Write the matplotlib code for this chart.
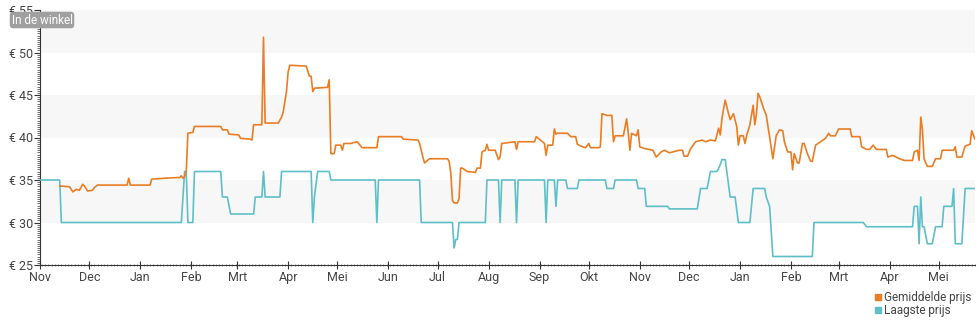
import numpy as np
import pandas as pd
import matplotlib
matplotlib.use('Agg')
import matplotlib.pyplot as plt
import matplotlib.dates as mdates
from matplotlib.lines import Line2D

plt.rcParams['font.family'] = ['Roboto', 'DejaVu Sans']

# startdatum van de grafiek; dagen tellen vanaf hier
start = pd.Timestamp('2022-11-01')
eind_dag = 569

# Gemiddelde prijs (dag, euro)
gem_dag = [12, 18, 20, 22, 24, 26, 27, 29, 32, 33, 35, 53, 54, 55, 67, 68, 75, 85, 86, 87,
           88, 89, 90, 93, 94, 110, 111, 114, 115, 121, 122, 128, 129, 130, 135, 136, 137, 145,
           147, 148, 150, 151, 152, 162, 164, 165, 166, 167, 175, 176, 177, 179, 180, 183, 184,
           185, 189, 193, 196, 205, 206, 220, 221, 230, 231, 233, 234, 237, 248, 249, 250, 251,
           252, 254, 255, 256, 257, 260, 265, 266, 268, 269, 271, 272, 273, 277, 279, 280, 281,
           289, 290, 291, 301, 302, 307, 308, 309, 312, 313, 314, 315, 321, 323, 326, 327, 329,
           332, 334, 335, 340, 341, 342, 345, 348, 349, 350, 355, 357, 358, 359, 360, 363, 364,
           365, 368, 373, 375, 378, 380, 383, 389, 391, 392, 394, 396, 399, 403, 405, 408, 411,
           413, 414, 415, 416, 417, 419, 420, 422, 424, 425, 426, 428, 429, 430, 432, 434, 435,
           436, 437, 438, 440, 442, 443, 444, 446, 448, 450, 452, 453, 455, 457, 458, 459, 461,
           462, 464, 465, 467, 469, 470, 472, 475, 478, 480, 481, 484, 486, 493, 494, 499, 500,
           503, 505, 507, 509, 515, 516, 519, 523, 526, 531, 532, 534, 535, 536, 537, 538, 540,
           543, 545, 548, 549, 556, 557, 558, 561, 563, 566, 567, 569]
gem_prijs = [34.3, 34.2, 33.6, 33.9, 33.8, 34.5, 34.3, 33.7, 33.8, 34.1, 34.4, 34.4, 35.2, 34.4,
             34.4, 35.1, 35.2, 35.3, 35.5, 35.2, 35.4, 36.0, 40.5, 40.6, 41.3, 41.3, 40.9, 40.9,
             40.4, 40.3, 39.9, 39.8, 39.7, 41.5, 41.5, 51.8, 41.7, 41.7, 42.4, 43.0, 45.4, 47.7,
             48.5, 48.4, 47.2, 47.2, 45.4, 45.8, 45.9, 46.8, 38.1, 38.1, 39.1, 39.1, 38.5, 39.3,
             39.3, 39.5, 38.8, 38.8, 40.1, 40.1, 39.8, 39.7, 39.3, 37.7, 37.0, 37.5, 37.5, 37.2,
             35.8, 32.6, 32.3, 32.3, 32.8, 36.4, 36.4, 36.0, 35.9, 36.4, 36.4, 38.3, 38.5, 39.2,
             38.5, 38.5, 37.4, 37.7, 39.3, 39.5, 38.6, 39.5, 39.5, 40.1, 39.3, 37.9, 39.1, 39.1,
             41.0, 40.4, 40.5, 40.5, 40.1, 40.1, 39.2, 39.0, 38.8, 39.3, 38.8, 38.8, 38.9, 42.8,
             42.6, 42.6, 39.5, 40.2, 40.2, 42.2, 40.5, 38.5, 40.5, 40.2, 40.9, 38.9, 38.7, 38.5,
             37.7, 38.3, 38.5, 38.2, 38.5, 38.5, 37.8, 37.8, 38.7, 39.5, 39.7, 39.5, 39.7, 39.6,
             41.1, 40.3, 42.2, 43.4, 44.4, 42.8, 42.1, 42.8, 41.3, 39.1, 40.2, 40.2, 39.3, 40.2,
             41.5, 43.8, 41.5, 42.8, 45.2, 44.8, 43.6, 42.6, 41.3, 40.1, 37.5, 40.2, 40.9, 40.8,
             39.5, 38.3, 38.3, 36.2, 38.1, 37.0, 37.0, 39.3, 39.3, 38.1, 37.2, 37.2, 39.1, 39.5,
             39.9, 40.5, 40.2, 40.2, 41.0, 41.0, 40.1, 40.1, 38.9, 38.6, 38.6, 39.1, 38.6, 38.6,
             37.7, 37.9, 37.5, 37.3, 37.3, 38.3, 38.5, 37.3, 42.4, 40.9, 37.5, 36.6, 36.6, 37.5,
             37.5, 38.5, 38.5, 38.9, 37.7, 37.7, 39.0, 39.2, 40.8, 39.8]

# Laagste prijs (dag, euro)
laag_dag = [0, 12, 13, 86, 88, 89, 90, 93, 94, 110, 111, 114, 116, 130, 131, 135, 136, 137, 146,
            147, 165, 166, 167, 169, 176, 177, 204, 205, 206, 231, 232, 251, 252, 253, 254, 255,
            271, 272, 279, 280, 281, 289, 290, 291, 307, 308, 309, 313, 314, 315, 320, 321, 327,
            328, 344, 345, 349, 350, 363, 364, 368, 369, 382, 383, 400, 402, 406, 408, 412, 414,
            415, 417, 420, 423, 425, 432, 434, 441, 442, 444, 446, 470, 471, 501, 503, 531, 532,
            534, 535, 536, 537, 538, 540, 543, 545, 549, 550, 555, 556, 557, 561, 563, 569]
laag_prijs = [35, 35, 30, 30, 36, 36, 30, 30, 36, 36, 33, 33, 31, 31, 33, 33, 36, 33, 33,
              36, 36, 30, 33, 36, 36, 35, 35, 30, 35, 35, 30, 30, 27, 28, 28, 30,
              30, 35, 35, 30, 35, 35, 30, 35, 35, 30, 35, 35, 31.9, 35, 35, 34, 34,
              35, 35, 34, 34, 35, 35, 34, 34, 31.9, 31.9, 31.6, 31.6, 34, 34, 36, 36, 36.8,
              37.4, 37.4, 33, 33, 30, 30, 34, 34, 33, 31.9, 26, 26, 30, 30, 29.5, 29.5, 31.9,
              31.9, 27.5, 33, 29.5, 29.5, 27.5, 27.5, 29.5, 29.5, 31.9, 31.9, 34, 27.5, 27.5, 34, 34]

maanden = ['Jan', 'Feb', 'Mrt', 'Apr', 'Mei', 'Jun', 'Jul', 'Aug', 'Sep', 'Okt', 'Nov', 'Dec']
euro_ticks = [25, 30, 35, 40, 45, 50, 55]

oranje = '#ea7d24'
cyaan = '#5ebfc8'

gem_x = start + pd.to_timedelta(gem_dag, unit='D')
laag_x = start + pd.to_timedelta(laag_dag, unit='D')

fig = plt.figure(figsize=(9.8, 3.25), dpi=100)
ax = fig.add_axes([40 / 980, 1 - 265 / 325, 935 / 980, 255 / 325])

# grijze banden
for lo in (30, 40, 50):
    ax.axhspan(lo, lo + 5, color='#f7f7f7', zorder=0, lw=0)

ax.plot(laag_x, laag_prijs, color=cyaan, lw=1.2, zorder=3)
ax.plot(gem_x, gem_prijs, color=oranje, lw=1.2, zorder=4)

ax.set_xlim(start, start + pd.Timedelta(days=eind_dag))
ax.set_ylim(25, 55)

for s in ('top', 'right'):
    ax.spines[s].set_visible(False)
ax.spines['left'].set_color('#333333')
ax.spines['bottom'].set_color('#333333')

ax.set_yticks(euro_ticks)
ax.set_yticklabels([f'€ {v}' for v in euro_ticks])
ax.yaxis.set_minor_locator(matplotlib.ticker.MultipleLocator(0.25))
ax.tick_params(axis='y', which='major', length=4, color='#333333', labelsize=9,
               labelcolor='#444444', pad=1)
ax.tick_params(axis='y', which='minor', length=2, width=0.6, color='#555555')

ax.xaxis.set_major_locator(mdates.MonthLocator())
ax.xaxis.set_major_formatter(matplotlib.ticker.FuncFormatter(
    lambda v, p: maanden[mdates.num2date(v).month - 1]))
ax.xaxis.set_minor_locator(mdates.DayLocator(interval=2))
ax.tick_params(axis='x', which='major', direction='inout', length=6, color='#333333',
               labelsize=9, labelcolor='#444444', pad=1)
ax.tick_params(axis='x', which='minor', direction='inout', length=2, width=0.5, color='#666666')

# label linksboven
fig.text(42 / 980, 1 - 20 / 325, 'In de winkel', ha='center', va='center', fontsize=8.5,
         color='white', bbox=dict(boxstyle='round,pad=0.15,rounding_size=0.3',
                                  fc='#a0a0a0', ec='none'))

handles = [Line2D([], [], marker='s', ls='none', color=oranje, markersize=5),
           Line2D([], [], marker='s', ls='none', color=cyaan, markersize=5)]
fig.legend(handles, ['Gemiddelde prijs', 'Laagste prijs'], loc='lower right',
           bbox_to_anchor=(1.0, 0.0), frameon=False, fontsize=8.5, handlelength=0.6,
           handletextpad=0.2, labelspacing=0.0, borderpad=0.2, labelcolor='#444444')

fig.savefig('out.png', dpi=100)
